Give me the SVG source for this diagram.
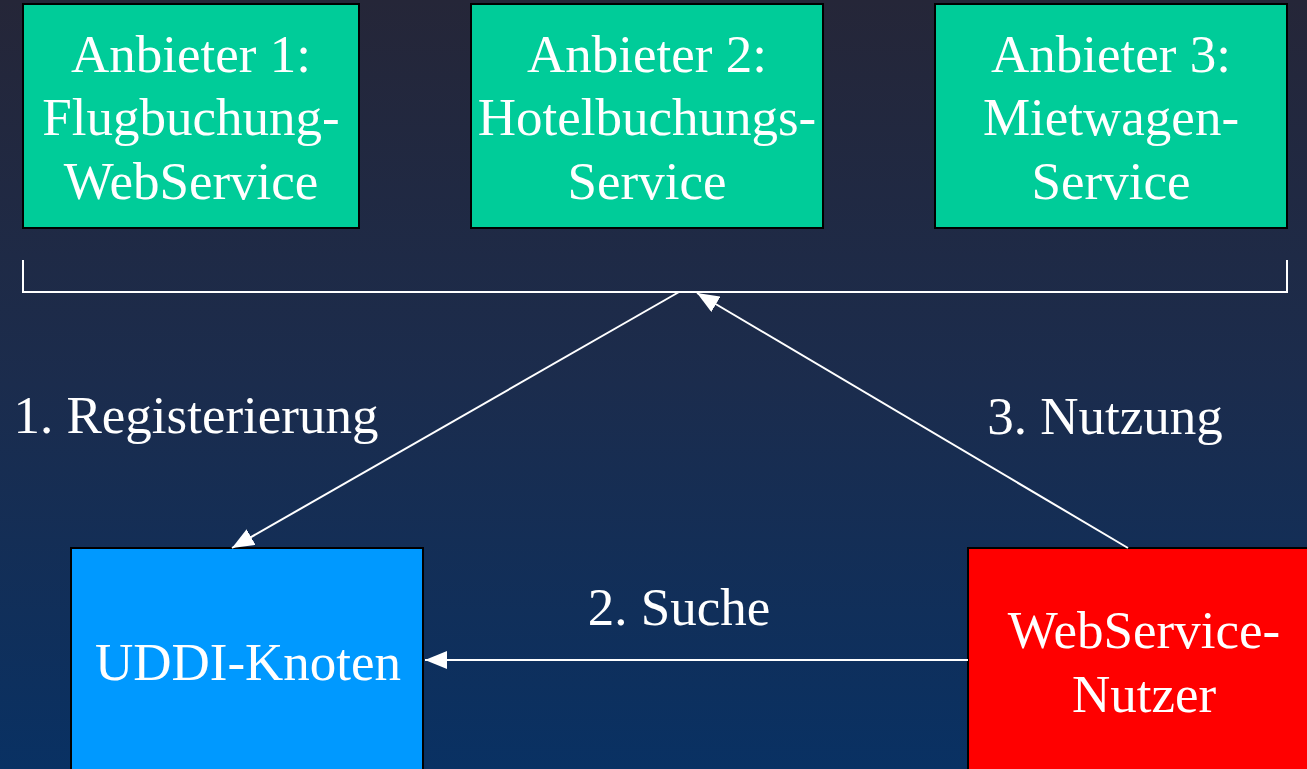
<svg xmlns="http://www.w3.org/2000/svg" width="1307" height="769" viewBox="0 0 1307 769">
  <defs>
    <linearGradient id="bg" x1="0" y1="0" x2="0" y2="1">
      <stop offset="0" stop-color="#252638"/>
      <stop offset="0.5" stop-color="#1b2c4d"/>
      <stop offset="1" stop-color="#093163"/>
    </linearGradient>
    <marker id="arrow" viewBox="0 0 22 18" refX="22" refY="9" markerWidth="22" markerHeight="18" markerUnits="userSpaceOnUse" orient="auto">
      <path d="M0,0 L22,9 L0,18 Z" fill="#ffffff"/>
    </marker>
    <style>
      .box { stroke: #000000; stroke-width: 2; }
      .prov { fill: #00cc99; }
      .lbl { font-family: "Liberation Serif", "Times New Roman", serif; font-size: 53px; fill: #ffffff; text-anchor: middle; }
      .edge { stroke: #ffffff; stroke-width: 2; fill: none; }
    </style>
  </defs>

  <rect x="0" y="0" width="1307" height="769" fill="url(#bg)"/>

  <g id="anbieter1">
    <rect class="box prov" x="23" y="4" width="336" height="224"/>
    <text class="lbl" x="191" y="72">Anbieter 1:</text>
    <text class="lbl" x="191" y="135">Flugbuchung-</text>
    <text class="lbl" x="191" y="199">WebService</text>
  </g>

  <g id="anbieter2">
    <rect class="box prov" x="471" y="4" width="352" height="224"/>
    <text class="lbl" x="647" y="72">Anbieter 2:</text>
    <text class="lbl" x="647" y="135">Hotelbuchungs-</text>
    <text class="lbl" x="647" y="199">Service</text>
  </g>

  <g id="anbieter3">
    <rect class="box prov" x="935" y="4" width="352" height="224"/>
    <text class="lbl" x="1111" y="72">Anbieter 3:</text>
    <text class="lbl" x="1111" y="135">Mietwagen-</text>
    <text class="lbl" x="1111" y="199">Service</text>
  </g>

  <g id="uddi">
    <rect class="box" x="71" y="548" width="352" height="230" fill="#0099ff"/>
    <text class="lbl" x="248" y="680">UDDI-Knoten</text>
  </g>

  <g id="nutzer">
    <rect class="box" x="968" y="548" width="350" height="230" fill="#ff0000"/>
    <text class="lbl" x="1144" y="648">WebService-</text>
    <text class="lbl" x="1144" y="712">Nutzer</text>
  </g>

  <g id="connectors">
    <!-- bracket grouping the three providers -->
    <path class="edge" d="M23,260 V292 H1287 V260"/>
    <!-- 1. registration -->
    <line class="edge" x1="679" y1="292" x2="232" y2="548" marker-end="url(#arrow)"/>
    <!-- 2. search -->
    <line class="edge" x1="968" y1="660" x2="425" y2="660" marker-end="url(#arrow)"/>
    <!-- 3. usage -->
    <line class="edge" x1="1128" y1="548" x2="697" y2="293" marker-end="url(#arrow)"/>
  </g>

  <g id="labels">
    <text class="lbl" x="196" y="433">1. Registerierung</text>
    <text class="lbl" x="679" y="625">2. Suche</text>
    <text class="lbl" x="1105" y="434">3. Nutzung</text>
  </g>
</svg>
